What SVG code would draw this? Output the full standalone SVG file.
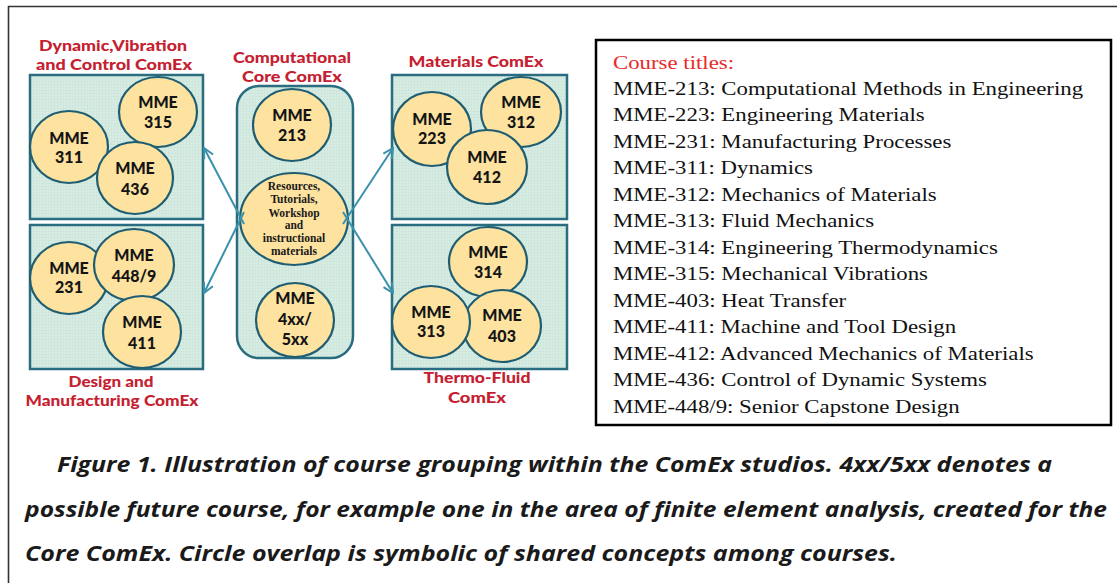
<svg xmlns="http://www.w3.org/2000/svg" width="1117" height="583" viewBox="0 0 1117 583">
<defs>
<pattern id="grid" width="3" height="3" patternUnits="userSpaceOnUse">
<rect width="3" height="3" fill="#d7ede4"/>
<path d="M0,0.5H3M0.5,0V3" stroke="#c9e3d8" stroke-width="0.6"/>
</pattern>
<marker id="arr" viewBox="0 0 12 12" refX="11" refY="6" markerWidth="12" markerHeight="12" markerUnits="userSpaceOnUse" orient="auto">
<path d="M1,1 L11,6 L1,11" fill="none" stroke="#3a91ab" stroke-width="2"/>
</marker>
</defs>
<style>
.box{fill:url(#grid);stroke:#2a6d80;stroke-width:2.5}
.c{fill:#fde2a0;stroke:#1f5e72;stroke-width:2.2}
.ct{font-family:Lato,"Open Sans",sans-serif;font-weight:900;font-size:16px;fill:#141414;text-anchor:middle}
.ttl{font-family:Lato,"Open Sans",sans-serif;font-weight:900;font-size:15.5px;fill:#c5202f;text-anchor:middle}
.res{font-family:"Liberation Serif",serif;font-weight:700;font-size:11.5px;fill:#1a1a1a;text-anchor:middle}
.con{stroke:#3a91ab;stroke-width:2;fill:none;marker-end:url(#arr)}
.ls{font-family:"Liberation Serif",serif;font-size:19.5px;fill:#111}
.cap{font-family:"Open Sans",sans-serif;font-weight:700;font-style:italic;font-size:20.5px;fill:#1a1a1a}
</style>
<rect width="1117" height="583" fill="#ffffff"/>
<path d="M8.5,583V6.5H1117" fill="none" stroke="#333" stroke-width="1.6"/>

<g id="dvc">
<text class="ttl" x="113" y="51" textLength="148" lengthAdjust="spacingAndGlyphs">Dynamic,Vibration</text>
<text class="ttl" x="114" y="70" textLength="156" lengthAdjust="spacingAndGlyphs">and Control  ComEx</text>
<rect class="box" x="30" y="75" width="173" height="144"/>
<ellipse class="c" cx="158" cy="112" rx="39" ry="35"/>
<text class="ct" x="158" y="108">MME</text><text class="ct" x="158" y="128">315</text>
<ellipse class="c" cx="69" cy="147" rx="39" ry="36"/>
<text class="ct" x="69" y="144">MME</text><text class="ct" x="69" y="163">311</text>
<ellipse class="c" cx="135" cy="178" rx="38" ry="36"/>
<text class="ct" x="135" y="174">MME</text><text class="ct" x="135" y="195">436</text>
</g>

<g id="dm">
<rect class="box" x="30" y="225" width="173" height="144"/>
<ellipse class="c" cx="69" cy="278" rx="39" ry="36"/>
<text class="ct" x="69" y="274">MME</text><text class="ct" x="69" y="293">231</text>
<ellipse class="c" cx="134" cy="265" rx="40" ry="36"/>
<text class="ct" x="134" y="261">MME</text><text class="ct" x="134" y="282">448/9</text>
<ellipse class="c" cx="142" cy="332" rx="39" ry="36"/>
<text class="ct" x="142" y="328">MME</text><text class="ct" x="142" y="349">411</text>
<text class="ttl" x="111" y="387" textLength="85" lengthAdjust="spacingAndGlyphs">Design and</text>
<text class="ttl" x="112" y="406" textLength="173" lengthAdjust="spacingAndGlyphs">Manufacturing ComEx</text>
</g>

<g id="core">
<text class="ttl" x="292" y="63" textLength="118" lengthAdjust="spacingAndGlyphs">Computational</text>
<text class="ttl" x="292" y="82" textLength="100" lengthAdjust="spacingAndGlyphs">Core ComEx</text>
<rect class="box" x="237" y="86" width="116" height="272" rx="22" ry="22"/>
<ellipse class="c" cx="292" cy="125" rx="39" ry="36"/>
<text class="ct" x="292" y="121">MME</text><text class="ct" x="292" y="141">213</text>
<ellipse class="c" cx="294" cy="219" rx="54" ry="46"/>
<text class="res" x="294" y="190">Resources,</text>
<text class="res" x="294" y="203">Tutorials,</text>
<text class="res" x="294" y="217">Workshop</text>
<text class="res" x="294" y="229">and</text>
<text class="res" x="294" y="242">instructional</text>
<text class="res" x="294" y="255">materials</text>
<ellipse class="c" cx="295" cy="320" rx="39" ry="37"/>
<text class="ct" x="295" y="304">MME</text><text class="ct" x="295" y="325">4xx/</text><text class="ct" x="295" y="345">5xx</text>
</g>

<g id="mat">
<text class="ttl" x="476" y="67" textLength="135" lengthAdjust="spacingAndGlyphs">Materials ComEx</text>
<rect class="box" x="392" y="75" width="175" height="144"/>
<ellipse class="c" cx="521" cy="112" rx="40" ry="35"/>
<text class="ct" x="521" y="108">MME</text><text class="ct" x="521" y="128">312</text>
<ellipse class="c" cx="432" cy="129" rx="39" ry="37"/>
<text class="ct" x="432" y="125">MME</text><text class="ct" x="432" y="144">223</text>
<ellipse class="c" cx="487" cy="167" rx="40" ry="37"/>
<text class="ct" x="487" y="163">MME</text><text class="ct" x="487" y="183">412</text>
</g>

<g id="tf">
<rect class="box" x="392" y="225" width="175" height="144"/>
<ellipse class="c" cx="488" cy="262" rx="39" ry="35"/>
<text class="ct" x="488" y="258">MME</text><text class="ct" x="488" y="278">314</text>
<ellipse class="c" cx="502" cy="326" rx="39" ry="36"/>
<text class="ct" x="502" y="321">MME</text><text class="ct" x="502" y="342">403</text>
<ellipse class="c" cx="431" cy="322" rx="39" ry="36"/>
<text class="ct" x="431" y="318">MME</text><text class="ct" x="431" y="337">313</text>
<text class="ttl" x="477" y="383" textLength="107" lengthAdjust="spacingAndGlyphs">Thermo-Fluid</text>
<text class="ttl" x="477" y="403" textLength="58" lengthAdjust="spacingAndGlyphs">ComEx</text>
</g>

<g id="connectors">
<line class="con" x1="244" y1="224" x2="204" y2="148"/>
<line class="con" x1="244" y1="212" x2="204" y2="293"/>
<line class="con" x1="343" y1="224" x2="393" y2="148"/>
<line class="con" x1="343" y1="212" x2="393" y2="293"/>
</g>

<g id="titles">
<rect x="596" y="40" width="515" height="385" fill="#fff" stroke="#000" stroke-width="2.5"/>
<g transform="translate(613,0) scale(1.17,1)">
<text class="ls" x="0" y="69" style="fill:#e82a2a">Course titles:</text>
<text class="ls" x="0" y="95">MME-213: Computational Methods in Engineering</text>
<text class="ls" x="0" y="121.5">MME-223: Engineering Materials</text>
<text class="ls" x="0" y="148">MME-231: Manufacturing Processes</text>
<text class="ls" x="0" y="174.5">MME-311: Dynamics</text>
<text class="ls" x="0" y="201">MME-312: Mechanics of Materials</text>
<text class="ls" x="0" y="227.5">MME-313: Fluid Mechanics</text>
<text class="ls" x="0" y="254">MME-314: Engineering Thermodynamics</text>
<text class="ls" x="0" y="280.5">MME-315: Mechanical Vibrations</text>
<text class="ls" x="0" y="307">MME-403: Heat Transfer</text>
<text class="ls" x="0" y="333.5">MME-411: Machine and Tool Design</text>
<text class="ls" x="0" y="360">MME-412: Advanced Mechanics of Materials</text>
<text class="ls" x="0" y="386.5">MME-436: Control of Dynamic Systems</text>
<text class="ls" x="0" y="413">MME-448/9: Senior Capstone Design</text>
</g>
</g>

<g id="caption">
<text class="cap" x="57" y="472" textLength="995" lengthAdjust="spacingAndGlyphs">Figure 1. Illustration of course grouping within the ComEx studios. 4xx/5xx denotes a</text>
<text class="cap" x="25" y="517" textLength="1082" lengthAdjust="spacingAndGlyphs">possible future course, for example one in the area of finite element analysis, created for the</text>
<text class="cap" x="25" y="561" textLength="872" lengthAdjust="spacingAndGlyphs">Core ComEx. Circle overlap is symbolic of shared concepts among courses.</text>
</g>
</svg>
